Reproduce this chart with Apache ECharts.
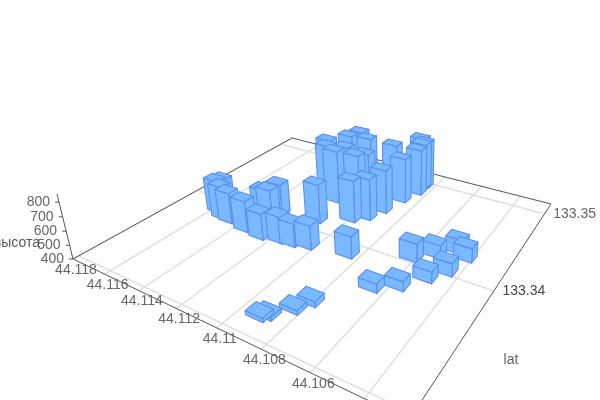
<!DOCTYPE html><html><head><meta charset="utf-8"><script src="https://cdn.jsdelivr.net/npm/echarts@6/dist/echarts.min.js"></script></head><body style="margin:0;background:#fff"><div id="c" style="width:600px;height:400px"></div>
<script>
const xTicks=[44.118,44.116,44.114,44.112,44.11,44.108,44.106,44.104];
const yTicks=[133.33,133.34,133.35];
const zTicks=[400,500,600,700,800];
const yName='lat',zName='высота';
const xValues=[44.1158,44.1158,44.1152,44.1147,44.1136,44.1126,44.1133,44.1138,44.1132,44.1117,44.1111,44.1104,44.1113,44.1100,44.1095,44.1116,44.1122,44.1126,44.1107,44.1116,44.1106,44.1113,44.1121,44.1119,44.1092,44.1089,44.1102,44.1086,44.1087,44.1090,44.1086,44.1086,44.1062,44.1055,44.1048,44.1043,44.1046,44.1051,44.1058,44.1066,44.1081,44.1084,44.1090,44.1092];
const yValues=[133.3388,133.3394,133.3383,133.3382,133.3379,133.3377,133.3399,133.3401,133.3408,133.3380,133.3381,133.3384,133.3413,133.3426,133.3434,133.3443,133.3447,133.3456,133.3449,133.3457,133.3460,133.3481,133.3474,133.3485,133.3448,133.3468,133.3491,133.3484,133.3495,133.3502,133.3496,133.3389,133.3406,133.3417,133.3428,133.3423,133.3404,133.3392,133.3377,133.3368,133.3340,133.3330,133.3319,133.3316];
const zValues=[647,633,651,631,632,594,632,604,638,597,572,576,693,716,713,805,808,805,781,779,750,769,790,787,730,744,714,760,758,768,774,561,534,496,504,503,493,481,469,464,440,431,426,428];
const xRange=[44.118,44.1025],yRange=[133.3296,133.3516],zRange=[400,855];
const du=.052,dv=.04;
const corners=[[73,259],[409,420],[551,204],[292,138]];
const [x0,y0]=corners[0],[x1,y1]=corners[1],[x2,y2]=corners[2],[x3,y3]=corners[3];
const sx=x0-x1+x2-x3,sy=y0-y1+y2-y3,dx1=x1-x2,dy1=y1-y2,dx2=x3-x2,dy2=y3-y2,det=dx1*dy2-dx2*dy1;
const g=(sx*dy2-dx2*sy)/det,h=(dx1*sy-sx*dy1)/det;
const a=x1-x0+g*x1,b=x3-x0+h*x3,d=y1-y0+g*y1,e=y3-y0+h*y3;
const K=-65/(1600-194),Vx=403,Vy=1600;
function uvh(u,v,t){const W=g*u+h*v+1+t*K;return [(a*u+b*v+x0+t*K*Vx)/W,(d*u+e*v+y0+t*K*Vy)/W];}
const lm=echarts.number.linearMap;
const U=x=>lm(x,xRange,[0,1]),V=y=>lm(y,yRange,[0,1]),T=z=>lm(z,zRange,[0,1]);
const bars=xValues.map((x,i)=>[x,yValues[i],zValues[i]]).sort((p,q)=>(g*U(q[0])+h*V(q[1]))-(g*U(p[0])+h*V(p[1])));
const line=(A,B,stroke,w)=>({type:'line',shape:{x1:A[0],y1:A[1],x2:B[0],y2:B[1]},style:{stroke,lineWidth:w},silent:true});
const label=(s,p,fill,align,size)=>({type:'text',style:{text:s,x:p[0],y:p[1],fill:fill||'#666',align:align||'center',verticalAlign:'middle',font:(size||14)+'px "Liberation Sans",Arial,sans-serif'},silent:true});
function renderFrame(){
 const c=[];
 xTicks.forEach(t=>c.push(line(uvh(U(t),0,0),uvh(U(t),1,0),'#dcdcdc',1.3)));
 yTicks.forEach(t=>c.push(line(uvh(0,V(t),0),uvh(1,V(t),0),'#dcdcdc',1.3)));
 const P=[uvh(0,0,0),uvh(1,0,0),uvh(1,1,0),uvh(0,1,0)];
 [[0,1],[1,2],[2,3],[3,0]].forEach(s=>c.push(line(P[s[0]],P[s[1]],'#555',1)));
 c.push(line(P[0],uvh(0,0,1),'#555',1));
 xTicks.forEach(t=>{const p=uvh(U(t),0,0);c.push(label(String(t),[p[0]+3,p[1]+11]));});
 yTicks.forEach(t=>{const p=uvh(1,V(t),0);c.push(label(String(t),[p[0]+30,p[1]],t===133.34?'#444':'#666'));});
 zTicks.forEach(t=>{const p=uvh(0,0,T(t));c.push(line(p,[p[0]-4,p[1]],'#555',1));c.push(label(String(t),[p[0]-9,p[1]],'#666','right'));});
 c.push(label(zName,[40,243],'#555','right',14));
 c.push(label(yName,[511,360],'#666','center',14));
 return {type:'group',children:c};
}
function renderBar(params,api){
 const u=U(api.value(0)),v=V(api.value(1)),t=T(api.value(2));
 const ua=u-du/2,ub=u+du/2,va=v-dv/2,vb=v+dv/2;
 const poly=pts=>({type:'polygon',shape:{points:pts},style:{fill:'#7ab8ff',stroke:'#5a8fee',lineWidth:1.1,lineJoin:'round'},silent:true});
 return {type:'group',children:[
  poly([uvh(ub,va,0),uvh(ub,vb,0),uvh(ub,vb,t),uvh(ub,va,t)]),
  poly([uvh(ua,va,0),uvh(ub,va,0),uvh(ub,va,t),uvh(ua,va,t)]),
  poly([uvh(ua,va,t),uvh(ub,va,t),uvh(ub,vb,t),uvh(ua,vb,t)])
 ]};
}
const chart=echarts.init(document.getElementById('c'));
chart.setOption({animation:false,backgroundColor:'#fff',series:[
 {type:'custom',coordinateSystem:'none',silent:true,data:[0],renderItem:renderFrame,z:1},
 {type:'custom',coordinateSystem:'none',silent:true,data:bars,encode:{},renderItem:renderBar,z:2}
]});
</script></body></html>
